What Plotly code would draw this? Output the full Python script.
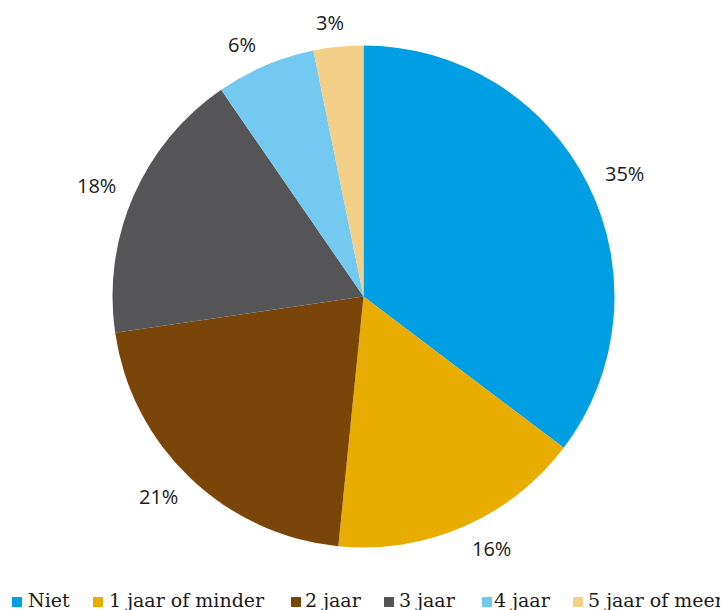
import math
import plotly.graph_objects as go

categories = ["Niet", "1 jaar of minder", "2 jaar", "3 jaar", "4 jaar", "5 jaar of meer"]
values = [35.3, 16.3, 21.1, 17.7, 6.4, 3.2]
colors = ["#009FE3", "#E9AC00", "#7A4509", "#555557", "#73C9EF", "#F3CF88"]

W, H = 728, 610
OFF = 8  # page body margin offset
cx, cy, r = 363.5 - OFF, 296.5 - OFF, 251

fig = go.Figure(go.Pie(
    labels=categories,
    values=values,
    sort=False,
    direction="clockwise",
    rotation=0,
    marker=dict(colors=colors, line=dict(width=0)),
    textinfo="none",
    hoverinfo="label+percent",
    domain=dict(x=[(cx - r) / W, (cx + r) / W], y=[1 - (cy + r) / H, 1 - (cy - r) / H]),
    showlegend=False,
))

# percentage labels placed outside each slice near its mid-angle
label_angle_nudge = [1.3, -3.4, 1.9, -1.0, -2.8, -1.3]  # degrees, layout tweak
total = sum(values)
label_font = dict(family="Open Sans", size=20, color="#1a1a1a")
cum = 0.0
for v, nudge in zip(values, label_angle_nudge):
    mid = (cum + v / 2) / total * 2 * math.pi + math.radians(nudge)
    cum += v
    txt = f"{round(v / total * 100)}%"
    hw = 6.6 * len(txt) + 1
    hh = 7
    R = r + 16 + hw * abs(math.sin(mid)) + hh * abs(math.cos(mid))
    px = cx + R * math.sin(mid)
    py = cy - R * math.cos(mid)
    fig.add_annotation(x=px / W, y=1 - py / H, xref="paper", yref="paper",
                       text=txt, showarrow=False, font=label_font,
                       xanchor="center", yanchor="middle")

# legend row (drawn manually to mimic the cropped single-row legend)
legend_sq_x = [12, 93, 291, 384, 482, 573]
legend_txt_x = [28, 109, 305, 399, 494, 588]
sq_top, sq_bot = 597, 607
text_mid = 600
legend_font = dict(family="DejaVu Serif", size=19, color="#1a1a1a")
for cat, col, sx, tx in zip(categories, colors, legend_sq_x, legend_txt_x):
    sx -= OFF
    tx -= OFF + 2
    fig.add_shape(type="rect", xref="paper", yref="paper",
                  x0=sx / W, x1=(sx + 10) / W,
                  y0=1 - (sq_bot - OFF) / H, y1=1 - (sq_top - OFF) / H,
                  fillcolor=col, line=dict(width=0))
    fig.add_annotation(x=tx / W, y=1 - (text_mid - OFF) / H, xref="paper", yref="paper",
                       text=cat, showarrow=False, font=legend_font,
                       xanchor="left", yanchor="middle")

fig.update_layout(
    width=W, height=H,
    margin=dict(l=0, r=0, t=0, b=0),
    paper_bgcolor="white",
    plot_bgcolor="white",
    showlegend=False,
)

fig.write_html("out.html")
